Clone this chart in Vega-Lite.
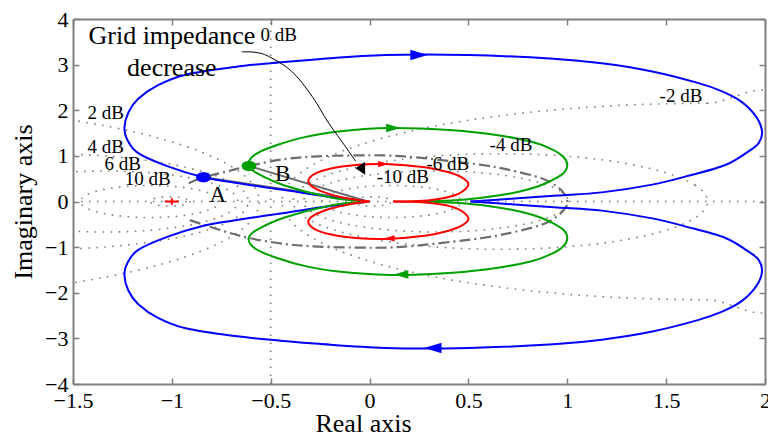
{
"$schema": "https://vega.github.io/schema/vega-lite/v6.json",
"width": 692, "height": 365,
"autosize": {"type": "none"},
"padding": {"left": 73, "top": 19, "right": 3, "bottom": 52},
"config": {
  "view": {"stroke": null},
  "font": "Liberation Serif",
  "axis": {"domainColor": "#808080", "domainWidth": 2, "tickColor": "#808080", "tickWidth": 1.5, "tickSize": -6, "grid": false,
    "labelFont": "Liberation Serif", "labelFontSize": 22, "labelColor": "#000000", "labelFlush": false, "labelOverlap": false,
    "titleFont": "Liberation Serif", "titleFontSize": 26, "titleFontWeight": "normal", "titleColor": "#000000"}
},
"datasets": {
  "grid": [
    {"c":"p2","i":0,"x":-1.9736,"y":2.0226},{"c":"p2","i":1,"x":-1.6336,"y":1.864},{"c":"p2","i":2,"x":-1.3262,"y":1.6488},{"c":"p2","i":3,"x":-1.0609,"y":1.3836},{"c":"p2","i":4,"x":-0.8457,"y":1.0762},{"c":"p2","i":5,"x":-0.6872,"y":0.7362},{"c":"p2","i":6,"x":-0.5901,"y":0.3738},{"c":"p2","i":7,"x":-0.5574,"y":0},{"c":"p2","i":8,"x":-0.5901,"y":-0.3738},{"c":"p2","i":9,"x":-0.6872,"y":-0.7362},{"c":"p2","i":10,"x":-0.8457,"y":-1.0762},{"c":"p2","i":11,"x":-1.0609,"y":-1.3836},{"c":"p2","i":12,"x":-1.3262,"y":-1.6488},{"c":"p2","i":13,"x":-1.6336,"y":-1.864},{"c":"p2","i":14,"x":-1.9736,"y":-2.0226},
    {"c":"p4","i":0,"x":-1.8435,"y":1.0324},{"c":"p4","i":1,"x":-1.6614,"y":1.0483},{"c":"p4","i":2,"x":-1.4794,"y":1.0324},{"c":"p4","i":3,"x":-1.3029,"y":0.9851},{"c":"p4","i":4,"x":-1.1373,"y":0.9079},{"c":"p4","i":5,"x":-0.9876,"y":0.803},{"c":"p4","i":6,"x":-0.8584,"y":0.6738},{"c":"p4","i":7,"x":-0.7536,"y":0.5242},{"c":"p4","i":8,"x":-0.6764,"y":0.3585},{"c":"p4","i":9,"x":-0.6291,"y":0.182},{"c":"p4","i":10,"x":-0.6132,"y":0},{"c":"p4","i":11,"x":-0.6291,"y":-0.182},{"c":"p4","i":12,"x":-0.6764,"y":-0.3585},{"c":"p4","i":13,"x":-0.7536,"y":-0.5242},{"c":"p4","i":14,"x":-0.8584,"y":-0.6738},{"c":"p4","i":15,"x":-0.9876,"y":-0.803},{"c":"p4","i":16,"x":-1.1373,"y":-0.9079},{"c":"p4","i":17,"x":-1.3029,"y":-0.9851},{"c":"p4","i":18,"x":-1.4794,"y":-1.0324},{"c":"p4","i":19,"x":-1.6614,"y":-1.0483},{"c":"p4","i":20,"x":-1.8435,"y":-1.0324},
    {"c":"p6","i":0,"x":-1.6701,"y":0.5796},{"c":"p6","i":1,"x":-1.5644,"y":0.6289},{"c":"p6","i":2,"x":-1.4517,"y":0.6591},{"c":"p6","i":3,"x":-1.3355,"y":0.6693},{"c":"p6","i":4,"x":-1.2192,"y":0.6591},{"c":"p6","i":5,"x":-1.1065,"y":0.6289},{"c":"p6","i":6,"x":-1.0008,"y":0.5796},{"c":"p6","i":7,"x":-0.9052,"y":0.5127},{"c":"p6","i":8,"x":-0.8227,"y":0.4302},{"c":"p6","i":9,"x":-0.7558,"y":0.3347},{"c":"p6","i":10,"x":-0.7065,"y":0.2289},{"c":"p6","i":11,"x":-0.6763,"y":0.1162},{"c":"p6","i":12,"x":-0.6661,"y":0},{"c":"p6","i":13,"x":-0.6763,"y":-0.1162},{"c":"p6","i":14,"x":-0.7065,"y":-0.2289},{"c":"p6","i":15,"x":-0.7558,"y":-0.3347},{"c":"p6","i":16,"x":-0.8227,"y":-0.4302},{"c":"p6","i":17,"x":-0.9052,"y":-0.5127},{"c":"p6","i":18,"x":-1.0008,"y":-0.5796},{"c":"p6","i":19,"x":-1.1065,"y":-0.6289},{"c":"p6","i":20,"x":-1.2192,"y":-0.6591},{"c":"p6","i":21,"x":-1.3355,"y":-0.6693},{"c":"p6","i":22,"x":-1.4517,"y":-0.6591},{"c":"p6","i":23,"x":-1.5644,"y":-0.6289},{"c":"p6","i":24,"x":-1.6701,"y":-0.5796},
    {"c":"p10","i":0,"x":-0.7597,"y":0},{"c":"p10","i":1,"x":-0.7809,"y":0.1202},{"c":"p10","i":2,"x":-0.8419,"y":0.2259},{"c":"p10","i":3,"x":-0.9354,"y":0.3043},{"c":"p10","i":4,"x":-1.0501,"y":0.346},{"c":"p10","i":5,"x":-1.1721,"y":0.346},{"c":"p10","i":6,"x":-1.2868,"y":0.3043},{"c":"p10","i":7,"x":-1.3803,"y":0.2259},{"c":"p10","i":8,"x":-1.4413,"y":0.1202},{"c":"p10","i":9,"x":-1.4625,"y":0},{"c":"p10","i":10,"x":-1.4413,"y":-0.1202},{"c":"p10","i":11,"x":-1.3803,"y":-0.2259},{"c":"p10","i":12,"x":-1.2868,"y":-0.3043},{"c":"p10","i":13,"x":-1.1721,"y":-0.346},{"c":"p10","i":14,"x":-1.0501,"y":-0.346},{"c":"p10","i":15,"x":-0.9354,"y":-0.3043},{"c":"p10","i":16,"x":-0.8419,"y":-0.2259},{"c":"p10","i":17,"x":-0.7809,"y":-0.1202},
    {"c":"p20","i":0,"x":-0.9091,"y":0},{"c":"p20","i":1,"x":-0.9226,"y":0.0505},{"c":"p20","i":2,"x":-0.9596,"y":0.0875},{"c":"p20","i":3,"x":-1.0101,"y":0.101},{"c":"p20","i":4,"x":-1.0606,"y":0.0875},{"c":"p20","i":5,"x":-1.0976,"y":0.0505},{"c":"p20","i":6,"x":-1.1111,"y":0},{"c":"p20","i":7,"x":-1.0976,"y":-0.0505},{"c":"p20","i":8,"x":-1.0606,"y":-0.0875},{"c":"p20","i":9,"x":-1.0101,"y":-0.101},{"c":"p20","i":10,"x":-0.9596,"y":-0.0875},{"c":"p20","i":11,"x":-0.9226,"y":-0.0505},
    {"c":"m20","i":0,"x":-0.0909,"y":0},{"c":"m20","i":1,"x":-0.0774,"y":0.0505},{"c":"m20","i":2,"x":-0.0404,"y":0.0875},{"c":"m20","i":3,"x":0.0101,"y":0.101},{"c":"m20","i":4,"x":0.0606,"y":0.0875},{"c":"m20","i":5,"x":0.0976,"y":0.0505},{"c":"m20","i":6,"x":0.1111,"y":0},{"c":"m20","i":7,"x":0.0976,"y":-0.0505},{"c":"m20","i":8,"x":0.0606,"y":-0.0875},{"c":"m20","i":9,"x":0.0101,"y":-0.101},{"c":"m20","i":10,"x":-0.0404,"y":-0.0875},{"c":"m20","i":11,"x":-0.0774,"y":-0.0505},
    {"c":"m10","i":0,"x":-0.2403,"y":0},{"c":"m10","i":1,"x":-0.2191,"y":0.1202},{"c":"m10","i":2,"x":-0.1581,"y":0.2259},{"c":"m10","i":3,"x":-0.0646,"y":0.3043},{"c":"m10","i":4,"x":0.0501,"y":0.346},{"c":"m10","i":5,"x":0.1721,"y":0.346},{"c":"m10","i":6,"x":0.2868,"y":0.3043},{"c":"m10","i":7,"x":0.3803,"y":0.2259},{"c":"m10","i":8,"x":0.4413,"y":0.1202},{"c":"m10","i":9,"x":0.4625,"y":0},{"c":"m10","i":10,"x":0.4413,"y":-0.1202},{"c":"m10","i":11,"x":0.3803,"y":-0.2259},{"c":"m10","i":12,"x":0.2868,"y":-0.3043},{"c":"m10","i":13,"x":0.1721,"y":-0.346},{"c":"m10","i":14,"x":0.0501,"y":-0.346},{"c":"m10","i":15,"x":-0.0646,"y":-0.3043},{"c":"m10","i":16,"x":-0.1581,"y":-0.2259},{"c":"m10","i":17,"x":-0.2191,"y":-0.1202},
    {"c":"m6","i":0,"x":1.0048,"y":0},{"c":"m6","i":1,"x":0.9644,"y":0.2289},{"c":"m6","i":2,"x":0.8482,"y":0.4302},{"c":"m6","i":3,"x":0.6701,"y":0.5796},{"c":"m6","i":4,"x":0.4517,"y":0.6591},{"c":"m6","i":5,"x":0.2192,"y":0.6591},{"c":"m6","i":6,"x":0.0008,"y":0.5796},{"c":"m6","i":7,"x":-0.1773,"y":0.4302},{"c":"m6","i":8,"x":-0.2935,"y":0.2289},{"c":"m6","i":9,"x":-0.3339,"y":0},{"c":"m6","i":10,"x":-0.2935,"y":-0.2289},{"c":"m6","i":11,"x":-0.1773,"y":-0.4302},{"c":"m6","i":12,"x":0.0008,"y":-0.5796},{"c":"m6","i":13,"x":0.2192,"y":-0.6591},{"c":"m6","i":14,"x":0.4517,"y":-0.6591},{"c":"m6","i":15,"x":0.6701,"y":-0.5796},{"c":"m6","i":16,"x":0.8482,"y":-0.4302},{"c":"m6","i":17,"x":0.9644,"y":-0.2289},
    {"c":"m4","i":0,"x":1.7097,"y":0},{"c":"m4","i":1,"x":1.6465,"y":0.3585},{"c":"m4","i":2,"x":1.4645,"y":0.6738},{"c":"m4","i":3,"x":1.1856,"y":0.9079},{"c":"m4","i":4,"x":0.8435,"y":1.0324},{"c":"m4","i":5,"x":0.4794,"y":1.0324},{"c":"m4","i":6,"x":0.1373,"y":0.9079},{"c":"m4","i":7,"x":-0.1416,"y":0.6738},{"c":"m4","i":8,"x":-0.3236,"y":0.3585},{"c":"m4","i":9,"x":-0.3869,"y":0},{"c":"m4","i":10,"x":-0.3236,"y":-0.3585},{"c":"m4","i":11,"x":-0.1416,"y":-0.6738},{"c":"m4","i":12,"x":0.1373,"y":-0.9079},{"c":"m4","i":13,"x":0.4794,"y":-1.0324},{"c":"m4","i":14,"x":0.8435,"y":-1.0324},{"c":"m4","i":15,"x":1.1856,"y":-0.9079},{"c":"m4","i":16,"x":1.4645,"y":-0.6738},{"c":"m4","i":17,"x":1.6465,"y":-0.3585},
    {"c":"m2","i":0,"x":2.0835,"y":2.1197},{"c":"m2","i":1,"x":1.7097,"y":2.1524},{"c":"m2","i":2,"x":1.3359,"y":2.1197},{"c":"m2","i":3,"x":0.9735,"y":2.0226},{"c":"m2","i":4,"x":0.6335,"y":1.864},{"c":"m2","i":5,"x":0.3262,"y":1.6488},{"c":"m2","i":6,"x":0.0609,"y":1.3836},{"c":"m2","i":7,"x":-0.1543,"y":1.0762},{"c":"m2","i":8,"x":-0.3129,"y":0.7362},{"c":"m2","i":9,"x":-0.41,"y":0.3738},{"c":"m2","i":10,"x":-0.4426,"y":0},{"c":"m2","i":11,"x":-0.41,"y":-0.3738},{"c":"m2","i":12,"x":-0.3129,"y":-0.7362},{"c":"m2","i":13,"x":-0.1543,"y":-1.0762},{"c":"m2","i":14,"x":0.0609,"y":-1.3836},{"c":"m2","i":15,"x":0.3262,"y":-1.6488},{"c":"m2","i":16,"x":0.6335,"y":-1.864},{"c":"m2","i":17,"x":0.9735,"y":-2.0226},{"c":"m2","i":18,"x":1.3359,"y":-2.1197},{"c":"m2","i":19,"x":1.7097,"y":-2.1524},{"c":"m2","i":20,"x":2.0835,"y":-2.1197}
  ],
  "rules": [
    {"x":-0.5,"y":-4,"x2":-0.5,"y2":4},
    {"x":-1.5,"y":0,"x2":2,"y2":0}
  ],
  "dd": [
    {"i":0,"x":-0.915,"y":0.4},{"i":1,"x":-0.84,"y":0.53},{"i":2,"x":-0.72,"y":0.66},{"i":3,"x":-0.61,"y":0.78},{"i":4,"x":-0.43,"y":0.93},{"i":5,"x":-0.26,"y":0.99},{"i":6,"x":-0.07,"y":1.01},{"i":7,"x":0.08,"y":1.01},{"i":8,"x":0.23,"y":0.97},{"i":9,"x":0.42,"y":0.88},{"i":10,"x":0.57,"y":0.8},{"i":11,"x":0.7,"y":0.7},{"i":12,"x":0.87,"y":0.51},{"i":13,"x":0.95,"y":0.32},{"i":14,"x":0.99,"y":0.14},{"i":15,"x":1.0,"y":0},{"i":16,"x":0.99,"y":-0.14},{"i":17,"x":0.95,"y":-0.32},{"i":18,"x":0.87,"y":-0.51},{"i":19,"x":0.7,"y":-0.7},{"i":20,"x":0.57,"y":-0.8},{"i":21,"x":0.42,"y":-0.88},{"i":22,"x":0.23,"y":-0.97},{"i":23,"x":0.08,"y":-1.01},{"i":24,"x":-0.07,"y":-1.01},{"i":25,"x":-0.26,"y":-0.99},{"i":26,"x":-0.43,"y":-0.93},{"i":27,"x":-0.61,"y":-0.8},{"i":28,"x":-0.76,"y":-0.62},{"i":29,"x":-0.915,"y":-0.4}
  ],
  "vec": [
    {"v":"A","i":0,"x":-0.84,"y":0.53},{"v":"A","i":1,"x":-0.01,"y":0},
    {"v":"B","i":0,"x":-0.61,"y":0.78},{"v":"B","i":1,"x":-0.01,"y":0}
  ],
  "nyq": [
    {"s":"b","k":"u","i":0,"x":0.51,"y":0},{"s":"b","k":"u","i":1,"x":0.75,"y":0.07},{"s":"b","k":"u","i":2,"x":0.95,"y":0.13},{"s":"b","k":"u","i":3,"x":1.175,"y":0.2},{"s":"b","k":"u","i":4,"x":1.43,"y":0.37},{"s":"b","k":"u","i":5,"x":1.6,"y":0.55},{"s":"b","k":"u","i":6,"x":1.8,"y":0.8},{"s":"b","k":"u","i":7,"x":1.917,"y":1.1},{"s":"b","k":"u","i":8,"x":1.968,"y":1.28},{"s":"b","k":"u","i":9,"x":1.985,"y":1.535},{"s":"b","k":"u","i":10,"x":1.955,"y":1.86},{"s":"b","k":"u","i":11,"x":1.88,"y":2.19},{"s":"b","k":"u","i":12,"x":1.78,"y":2.42},{"s":"b","k":"u","i":13,"x":1.66,"y":2.6},{"s":"b","k":"u","i":14,"x":1.43,"y":2.85},{"s":"b","k":"u","i":15,"x":1.175,"y":3.03},{"s":"b","k":"u","i":16,"x":0.93,"y":3.13},{"s":"b","k":"u","i":17,"x":0.5,"y":3.21},{"s":"b","k":"u","i":18,"x":0.08,"y":3.21},{"s":"b","k":"u","i":19,"x":-0.26,"y":3.12},{"s":"b","k":"u","i":20,"x":-0.45,"y":3.05},{"s":"b","k":"u","i":21,"x":-0.68,"y":2.95},{"s":"b","k":"u","i":22,"x":-0.93,"y":2.78},{"s":"b","k":"u","i":23,"x":-1.07,"y":2.55},{"s":"b","k":"u","i":24,"x":-1.17,"y":2.25},{"s":"b","k":"u","i":25,"x":-1.22,"y":1.95},{"s":"b","k":"u","i":26,"x":-1.24,"y":1.61},{"s":"b","k":"u","i":27,"x":-1.225,"y":1.35},{"s":"b","k":"u","i":28,"x":-1.17,"y":1.06},{"s":"b","k":"u","i":29,"x":-1.02,"y":0.77},{"s":"b","k":"u","i":30,"x":-0.84,"y":0.53},{"s":"b","k":"u","i":31,"x":-0.68,"y":0.41},{"s":"b","k":"u","i":32,"x":-0.43,"y":0.25},{"s":"b","k":"u","i":33,"x":-0.2,"y":0.1},{"s":"b","k":"u","i":34,"x":-0.02,"y":0.01},
    {"s":"b","k":"l","i":0,"x":0.51,"y":0},{"s":"b","k":"l","i":1,"x":0.75,"y":-0.07},{"s":"b","k":"l","i":2,"x":0.95,"y":-0.13},{"s":"b","k":"l","i":3,"x":1.175,"y":-0.2},{"s":"b","k":"l","i":4,"x":1.43,"y":-0.37},{"s":"b","k":"l","i":5,"x":1.6,"y":-0.55},{"s":"b","k":"l","i":6,"x":1.8,"y":-0.8},{"s":"b","k":"l","i":7,"x":1.917,"y":-1.1},{"s":"b","k":"l","i":8,"x":1.968,"y":-1.28},{"s":"b","k":"l","i":9,"x":1.985,"y":-1.535},{"s":"b","k":"l","i":10,"x":1.955,"y":-1.86},{"s":"b","k":"l","i":11,"x":1.88,"y":-2.19},{"s":"b","k":"l","i":12,"x":1.78,"y":-2.42},{"s":"b","k":"l","i":13,"x":1.66,"y":-2.6},{"s":"b","k":"l","i":14,"x":1.43,"y":-2.85},{"s":"b","k":"l","i":15,"x":1.175,"y":-3.03},{"s":"b","k":"l","i":16,"x":0.93,"y":-3.13},{"s":"b","k":"l","i":17,"x":0.5,"y":-3.21},{"s":"b","k":"l","i":18,"x":0.08,"y":-3.21},{"s":"b","k":"l","i":19,"x":-0.26,"y":-3.12},{"s":"b","k":"l","i":20,"x":-0.45,"y":-3.05},{"s":"b","k":"l","i":21,"x":-0.68,"y":-2.95},{"s":"b","k":"l","i":22,"x":-0.93,"y":-2.78},{"s":"b","k":"l","i":23,"x":-1.07,"y":-2.55},{"s":"b","k":"l","i":24,"x":-1.17,"y":-2.25},{"s":"b","k":"l","i":25,"x":-1.22,"y":-1.95},{"s":"b","k":"l","i":26,"x":-1.24,"y":-1.61},{"s":"b","k":"l","i":27,"x":-1.225,"y":-1.35},{"s":"b","k":"l","i":28,"x":-1.17,"y":-1.06},{"s":"b","k":"l","i":29,"x":-1.02,"y":-0.77},{"s":"b","k":"l","i":30,"x":-0.84,"y":-0.53},{"s":"b","k":"l","i":31,"x":-0.68,"y":-0.41},{"s":"b","k":"l","i":32,"x":-0.43,"y":-0.25},{"s":"b","k":"l","i":33,"x":-0.2,"y":-0.1},{"s":"b","k":"l","i":34,"x":-0.02,"y":-0.01},
    {"s":"g","k":"u","i":0,"x":0.22,"y":0},{"s":"g","k":"u","i":1,"x":0.35,"y":0.01},{"s":"g","k":"u","i":2,"x":0.5,"y":0.05},{"s":"g","k":"u","i":3,"x":0.65,"y":0.13},{"s":"g","k":"u","i":4,"x":0.76,"y":0.22},{"s":"g","k":"u","i":5,"x":0.85,"y":0.33},{"s":"g","k":"u","i":6,"x":0.92,"y":0.46},{"s":"g","k":"u","i":7,"x":0.98,"y":0.62},{"s":"g","k":"u","i":8,"x":1.0,"y":0.8},{"s":"g","k":"u","i":9,"x":0.98,"y":0.98},{"s":"g","k":"u","i":10,"x":0.92,"y":1.15},{"s":"g","k":"u","i":11,"x":0.82,"y":1.31},{"s":"g","k":"u","i":12,"x":0.65,"y":1.45},{"s":"g","k":"u","i":13,"x":0.42,"y":1.56},{"s":"g","k":"u","i":14,"x":0.1,"y":1.61},{"s":"g","k":"u","i":15,"x":-0.17,"y":1.53},{"s":"g","k":"u","i":16,"x":-0.34,"y":1.4},{"s":"g","k":"u","i":17,"x":-0.46,"y":1.25},{"s":"g","k":"u","i":18,"x":-0.55,"y":1.1},{"s":"g","k":"u","i":19,"x":-0.6,"y":0.95},{"s":"g","k":"u","i":20,"x":-0.61,"y":0.78},{"s":"g","k":"u","i":21,"x":-0.57,"y":0.62},{"s":"g","k":"u","i":22,"x":-0.43,"y":0.35},{"s":"g","k":"u","i":23,"x":-0.19,"y":0.08},{"s":"g","k":"u","i":24,"x":-0.02,"y":0.01},
    {"s":"g","k":"l","i":0,"x":0.22,"y":0},{"s":"g","k":"l","i":1,"x":0.35,"y":-0.01},{"s":"g","k":"l","i":2,"x":0.5,"y":-0.05},{"s":"g","k":"l","i":3,"x":0.65,"y":-0.13},{"s":"g","k":"l","i":4,"x":0.76,"y":-0.22},{"s":"g","k":"l","i":5,"x":0.85,"y":-0.33},{"s":"g","k":"l","i":6,"x":0.92,"y":-0.46},{"s":"g","k":"l","i":7,"x":0.98,"y":-0.62},{"s":"g","k":"l","i":8,"x":1.0,"y":-0.8},{"s":"g","k":"l","i":9,"x":0.98,"y":-0.98},{"s":"g","k":"l","i":10,"x":0.92,"y":-1.15},{"s":"g","k":"l","i":11,"x":0.82,"y":-1.31},{"s":"g","k":"l","i":12,"x":0.65,"y":-1.45},{"s":"g","k":"l","i":13,"x":0.42,"y":-1.56},{"s":"g","k":"l","i":14,"x":0.1,"y":-1.61},{"s":"g","k":"l","i":15,"x":-0.17,"y":-1.53},{"s":"g","k":"l","i":16,"x":-0.34,"y":-1.4},{"s":"g","k":"l","i":17,"x":-0.46,"y":-1.25},{"s":"g","k":"l","i":18,"x":-0.55,"y":-1.1},{"s":"g","k":"l","i":19,"x":-0.6,"y":-0.95},{"s":"g","k":"l","i":20,"x":-0.61,"y":-0.78},{"s":"g","k":"l","i":21,"x":-0.57,"y":-0.62},{"s":"g","k":"l","i":22,"x":-0.43,"y":-0.35},{"s":"g","k":"l","i":23,"x":-0.19,"y":-0.08},{"s":"g","k":"l","i":24,"x":-0.02,"y":-0.01},
    {"s":"r","k":"u","i":0,"x":0.12,"y":0},{"s":"r","k":"u","i":1,"x":0.25,"y":0.01},{"s":"r","k":"u","i":2,"x":0.34,"y":0.05},{"s":"r","k":"u","i":3,"x":0.42,"y":0.12},{"s":"r","k":"u","i":4,"x":0.47,"y":0.22},{"s":"r","k":"u","i":5,"x":0.5,"y":0.38},{"s":"r","k":"u","i":6,"x":0.47,"y":0.52},{"s":"r","k":"u","i":7,"x":0.4,"y":0.64},{"s":"r","k":"u","i":8,"x":0.28,"y":0.75},{"s":"r","k":"u","i":9,"x":0.08,"y":0.82},{"s":"r","k":"u","i":10,"x":-0.07,"y":0.8},{"s":"r","k":"u","i":11,"x":-0.2,"y":0.72},{"s":"r","k":"u","i":12,"x":-0.28,"y":0.6},{"s":"r","k":"u","i":13,"x":-0.31,"y":0.44},{"s":"r","k":"u","i":14,"x":-0.28,"y":0.3},{"s":"r","k":"u","i":15,"x":-0.2,"y":0.16},{"s":"r","k":"u","i":16,"x":-0.1,"y":0.06},{"s":"r","k":"u","i":17,"x":0.0,"y":0},
    {"s":"r","k":"l","i":0,"x":0.12,"y":0},{"s":"r","k":"l","i":1,"x":0.25,"y":-0.01},{"s":"r","k":"l","i":2,"x":0.34,"y":-0.05},{"s":"r","k":"l","i":3,"x":0.42,"y":-0.12},{"s":"r","k":"l","i":4,"x":0.47,"y":-0.22},{"s":"r","k":"l","i":5,"x":0.5,"y":-0.38},{"s":"r","k":"l","i":6,"x":0.47,"y":-0.52},{"s":"r","k":"l","i":7,"x":0.4,"y":-0.64},{"s":"r","k":"l","i":8,"x":0.28,"y":-0.75},{"s":"r","k":"l","i":9,"x":0.08,"y":-0.82},{"s":"r","k":"l","i":10,"x":-0.07,"y":-0.8},{"s":"r","k":"l","i":11,"x":-0.2,"y":-0.72},{"s":"r","k":"l","i":12,"x":-0.28,"y":-0.6},{"s":"r","k":"l","i":13,"x":-0.31,"y":-0.44},{"s":"r","k":"l","i":14,"x":-0.28,"y":-0.3},{"s":"r","k":"l","i":15,"x":-0.2,"y":-0.16},{"s":"r","k":"l","i":16,"x":-0.1,"y":-0.06},{"s":"r","k":"l","i":17,"x":0.0,"y":0}
  ],
  "arr": [
    {"s":"b","d":"r","x":0.25,"y":3.21},{"s":"b","d":"l","x":0.32,"y":-3.21},
    {"s":"g","d":"r","x":0.12,"y":1.61},{"s":"g","d":"l","x":0.16,"y":-1.6},
    {"s":"r","d":"r","x":0.07,"y":0.82},{"s":"r","d":"l","x":0.1,"y":-0.81}
  ],
  "pts": [{"s":"b","x":-0.84,"y":0.53},{"s":"g","x":-0.61,"y":0.78}],
  "ann": [
    {"i":0,"x":-0.646,"y":3.28},{"i":1,"x":-0.58,"y":3.27},{"i":2,"x":-0.51,"y":3.18},{"i":3,"x":-0.393,"y":2.85},{"i":4,"x":-0.29,"y":2.3},{"i":5,"x":-0.207,"y":1.72},{"i":6,"x":-0.123,"y":1.21},{"i":7,"x":-0.07,"y":0.88}
  ],
  "lab": [
    {"t":"Grid impedance","x":-1.0,"y":3.46,"g":"big"},
    {"t":"decrease","x":-1.0,"y":2.76,"g":"big"},
    {"t":"0 dB","x":-0.459,"y":3.51,"g":"db"},
    {"t":"2 dB","x":-1.334,"y":1.81,"g":"db"},
    {"t":"4 dB","x":-1.334,"y":1.07,"g":"db"},
    {"t":"6 dB","x":-1.248,"y":0.695,"g":"db"},
    {"t":"10 dB","x":-1.122,"y":0.366,"g":"db"},
    {"t":"-2 dB","x":1.575,"y":2.19,"g":"db"},
    {"t":"-4 dB","x":0.715,"y":1.1,"g":"db"},
    {"t":"-6 dB","x":0.396,"y":0.695,"g":"db"},
    {"t":"-10 dB","x":0.168,"y":0.4,"g":"db"},
    {"t":"A","x":-0.767,"y":0.0,"g":"ab"},
    {"t":"B","x":-0.44,"y":0.44,"g":"ab"}
  ]
},
"encoding": {
  "x": {"field": "x", "type": "quantitative", "scale": {"domain": [-1.5, 2], "nice": false, "zero": false}, "axis": null},
  "y": {"field": "y", "type": "quantitative", "scale": {"domain": [-4, 4], "nice": false, "zero": false}, "axis": null}
},
"layer": [
  {
    "data": {"name": "grid"},
    "mark": {"type": "line", "interpolate": "cardinal-closed", "clip": true, "stroke": "#808080", "strokeWidth": 1.6, "strokeDash": [1.6, 6.4], "strokeCap": "butt"},
    "encoding": {
      "x": {"field": "x", "type": "quantitative", "scale": {"domain": [-1.5, 2], "nice": false, "zero": false},
        "axis": {"orient": "bottom", "values": [-1.5, -1, -0.5, 0, 0.5, 1, 1.5, 2], "format": "~g", "labelFont": "Liberation Serif", "labelFontSize": 22, "labelPadding": 12, "title": "Real axis", "titleFont": "Liberation Serif", "titlePadding": -1, "titleX": 290}},
      "y": {"field": "y", "type": "quantitative", "scale": {"domain": [-4, 4], "nice": false, "zero": false},
        "axis": {"orient": "left", "values": [-4, -3, -2, -1, 0, 1, 2, 3, 4], "format": "~g", "labelFont": "Liberation Serif", "labelFontSize": 22, "labelPadding": 11, "title": "Imaginary axis", "titleFont": "Liberation Serif", "titlePadding": 8}},
      "detail": {"field": "c"},
      "order": {"field": "i", "type": "quantitative"}
    }
  },
  {
    "data": {"name": "rules"},
    "mark": {"type": "rule", "clip": true, "stroke": "#808080", "strokeWidth": 1.6, "strokeDash": [1.6, 6.4], "strokeCap": "butt"},
    "encoding": {
      "x": {"field": "x", "type": "quantitative", "scale": {"domain": [-1.5, 2], "nice": false, "zero": false},
        "axis": {"orient": "top", "values": [-1.5, -1, -0.5, 0, 0.5, 1, 1.5, 2], "labels": false, "title": null}},
      "y": {"field": "y", "type": "quantitative", "scale": {"domain": [-4, 4], "nice": false, "zero": false},
        "axis": {"orient": "right", "values": [-4, -3, -2, -1, 0, 1, 2, 3, 4], "labels": false, "title": null}},
      "x2": {"field": "x2"},
      "y2": {"field": "y2"}
    }
  },
  {
    "data": {"name": "dd"},
    "mark": {"type": "line", "interpolate": "cardinal", "stroke": "#6e6e6e", "strokeWidth": 2.2, "strokeDash": [11, 4, 2, 4]},
    "encoding": {"order": {"field": "i", "type": "quantitative"}}
  },
  {
    "data": {"name": "vec"},
    "mark": {"type": "line", "stroke": "#6e6e6e", "strokeWidth": 2},
    "encoding": {"detail": {"field": "v"}, "order": {"field": "i", "type": "quantitative"}}
  },
  {
    "data": {"name": "nyq"},
    "mark": {"type": "line", "interpolate": "cardinal", "strokeWidth": 2, "clip": true},
    "encoding": {
      "color": {"field": "s", "type": "nominal", "scale": {"domain": ["b", "g", "r"], "range": ["#0000ff", "#00a000", "#ff0000"]}, "legend": null},
      "detail": {"field": "k"},
      "order": {"field": "i", "type": "quantitative"}
    }
  },
  {
    "data": {"name": "arr"},
    "mark": {"type": "point", "filled": true, "opacity": 1, "strokeWidth": 0},
    "encoding": {
      "color": {"field": "s", "type": "nominal", "scale": {"domain": ["b", "g", "r"], "range": ["#0000ff", "#00a000", "#ff0000"]}, "legend": null},
      "shape": {"field": "d", "type": "nominal", "scale": {"domain": ["r", "l"], "range": ["M-1,-0.6L1,0L-1,0.6Z", "M1,-0.6L-1,0L1,0.6Z"]}, "legend": null},
      "size": {"field": "s", "type": "nominal", "scale": {"domain": ["b", "g", "r"], "range": [300, 110, 64]}, "legend": null}
    }
  },
  {
    "data": {"name": "pts"},
    "mark": {"type": "point", "filled": true, "opacity": 1, "strokeWidth": 0, "size": 225, "shape": "M1,0L0.87,0.35L0.5,0.6L0,0.7L-0.5,0.6L-0.87,0.35L-1,0L-0.87,-0.35L-0.5,-0.6L0,-0.7L0.5,-0.6L0.87,-0.35Z"},
    "encoding": {
      "color": {"field": "s", "type": "nominal", "scale": {"domain": ["b", "g", "r"], "range": ["#0000ff", "#00a000", "#ff0000"]}, "legend": null}
    }
  },
  {
    "data": {"values": [{"x": -1, "y": 0}]},
    "mark": {"type": "point", "filled": false, "stroke": "#ff0000", "strokeWidth": 2, "opacity": 1, "size": 196, "shape": "M-1,0L1,0M0,-0.45L0,0.45"}
  },
  {
    "data": {"name": "ann"},
    "mark": {"type": "line", "interpolate": "cardinal", "stroke": "#000000", "strokeWidth": 1},
    "encoding": {"order": {"field": "i", "type": "quantitative"}}
  },
  {
    "data": {"values": [{"x": -0.047, "y": 0.73}]},
    "mark": {"type": "point", "filled": true, "fill": "#000000", "opacity": 1, "strokeWidth": 0, "size": 169, "shape": "M-0.75,0L0.75,-1L0.75,1Z"}
  },
  {
    "data": {"name": "lab"},
    "transform": [{"filter": "datum.g == 'big'"}],
    "mark": {"type": "text", "font": "Liberation Serif", "fontSize": 26, "align": "center", "baseline": "alphabetic", "color": "#000000"},
    "encoding": {"text": {"field": "t"}}
  },
  {
    "data": {"name": "lab"},
    "transform": [{"filter": "datum.g == 'db'"}],
    "mark": {"type": "text", "font": "Liberation Serif", "fontSize": 19, "align": "center", "baseline": "alphabetic", "color": "#000000"},
    "encoding": {"text": {"field": "t"}}
  },
  {
    "data": {"name": "lab"},
    "transform": [{"filter": "datum.g == 'ab'"}],
    "mark": {"type": "text", "font": "Liberation Serif", "fontSize": 23, "align": "center", "baseline": "alphabetic", "color": "#000000"},
    "encoding": {"text": {"field": "t"}}
  }
],
"resolve": {"axis": {"x": "independent", "y": "independent"}}
}
